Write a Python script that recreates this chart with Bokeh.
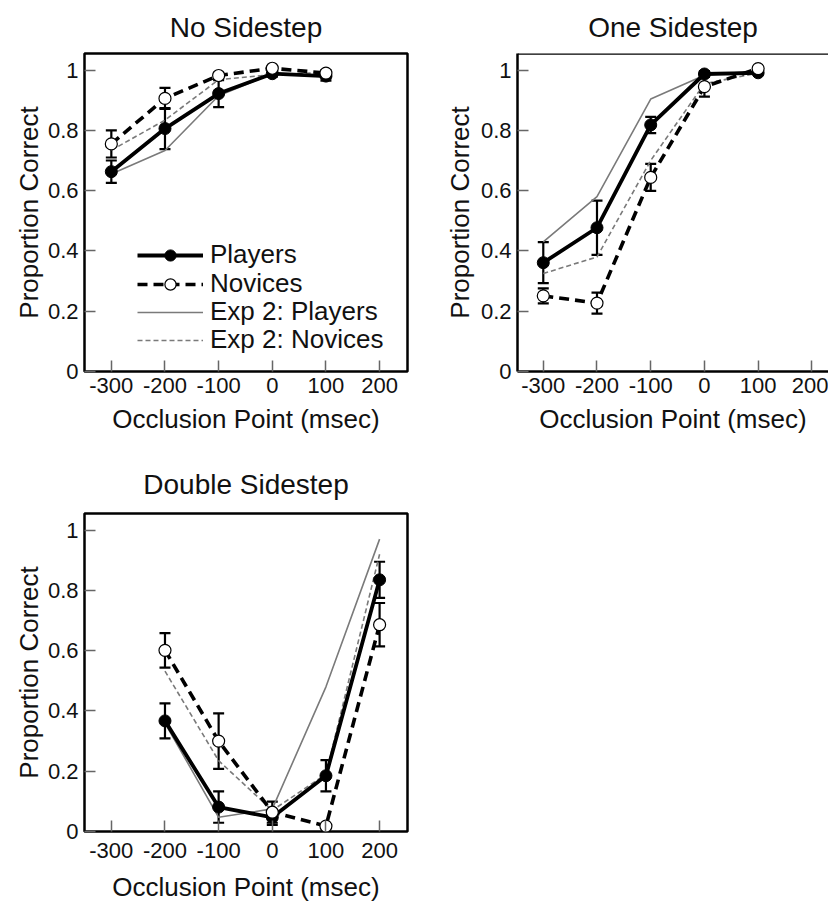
from bokeh.plotting import figure
from bokeh.layouts import column, row
from bokeh.models import (ColumnDataSource, Whisker, TeeHead, Legend, LegendItem,
                          Span, Range1d, FixedTicker, NumeralTickFormatter)
from bokeh.embed import file_html
from bokeh.resources import INLINE

# ---------------- data ----------------
x_early = [-300, -200, -100, 0, 100]
x_late = [-200, -100, 0, 100, 200]
x_ticks = [-300, -200, -100, 0, 100, 200]
y_ticks = [0, 0.2, 0.4, 0.6, 0.8, 1.0]
legend_labels = ["Players", "Novices", "Exp 2: Players", "Exp 2: Novices"]

# No Sidestep
ns_players = [0.663, 0.806, 0.922, 0.988, 0.980]
ns_players_se = [0.037, 0.068, 0.045, 0.010, 0.015]
ns_novices = [0.755, 0.906, 0.982, 1.006, 0.990]
ns_novices_se = [0.045, 0.035, 0.010, 0.005, 0.010]
ns_exp2_players = [0.655, 0.733, 0.915, 0.988, 0.978]
ns_exp2_novices = [0.734, 0.834, 0.968, 0.985, 0.992]

# One Sidestep
os_players = [0.361, 0.477, 0.818, 0.987, 0.991]
os_players_se = [0.068, 0.090, 0.027, 0.010, 0.005]
os_novices = [0.251, 0.227, 0.644, 0.945, 1.005]
os_novices_se = [0.025, 0.035, 0.045, 0.033, 0.005]
os_exp2_players = [0.430, 0.580, 0.904, 0.983, 0.998]
os_exp2_novices = [0.325, 0.380, 0.700, 0.955, 0.990]

# Double Sidestep
ds_players = [0.367, 0.081, 0.047, 0.185, 0.835]
ds_players_se = [0.058, 0.052, 0.025, 0.052, 0.060]
ds_novices = [0.601, 0.300, 0.064, 0.018, 0.686]
ds_novices_se = [0.057, 0.092, 0.035, 0.000, 0.072]
ds_exp2_players = [0.360, 0.047, 0.075, 0.480, 0.970]
ds_exp2_novices = [0.532, 0.235, 0.070, 0.190, 0.920]

FONT = "Liberation Sans"
GRAY = "#7a7a7a"
TXT = "#111111"
Y_END = 1.055


def make_panel(title, fw, fh, mbl, mbr, mbt, mbb, xr, outline=True,
               title_standoff=18, ylab_standoff=1, xtick_standoff=6, xlab_standoff=8):
    p = figure(frame_width=fw, frame_height=fh, x_range=Range1d(*xr), y_range=Range1d(0, Y_END),
               output_backend="svg", toolbar_location=None,
               min_border_left=mbl, min_border_right=mbr,
               min_border_top=mbt, min_border_bottom=mbb, title=title)
    p.title.text_font = FONT
    p.title.text_font_size = "28px"
    p.title.text_font_style = "normal"
    p.title.text_color = TXT
    p.title.align = "center"
    p.title.vertical_align = "top"
    p.title.standoff = title_standoff
    p.xgrid.visible = False
    p.ygrid.visible = False
    p.background_fill_color = "white"
    p.border_fill_color = "white"
    if outline:
        p.outline_line_color = "black"
        p.outline_line_width = 2.5
        p.outline_line_alpha = 1.0
    else:
        p.outline_line_color = None
        p.add_layout(Span(location=Y_END, dimension="width", line_color="black", line_width=2.5))
    p.xaxis.ticker = FixedTicker(ticks=x_ticks)
    p.yaxis.ticker = FixedTicker(ticks=y_ticks)
    p.xaxis.formatter = NumeralTickFormatter(format="0")
    p.yaxis.formatter = NumeralTickFormatter(format="0.[0]")
    for ax in (p.xaxis, p.yaxis):
        ax.axis_line_color = None if outline else "black"
        ax.axis_line_width = 2.5
        ax.major_tick_in = 11
        ax.major_tick_out = 0
        ax.minor_tick_line_color = None
        ax.major_tick_line_color = "#666666"
        ax.major_tick_line_width = 1.5
        ax.major_label_text_font = FONT
        ax.major_label_text_font_size = "22px"
        ax.major_label_text_color = TXT
        ax.axis_label_text_font = FONT
        ax.axis_label_text_font_size = "26px"
        ax.axis_label_text_font_style = "normal"
        ax.axis_label_text_color = TXT
    p.xaxis.major_label_standoff = xtick_standoff
    p.yaxis.major_label_standoff = 6
    p.xaxis.axis_label_standoff = xlab_standoff
    p.yaxis.axis_label_standoff = ylab_standoff
    p.xaxis.axis_label = "Occlusion Point (msec)"
    p.yaxis.axis_label = "Proportion Correct"
    return p


def draw(p, xs, players, players_se, novices, novices_se, e2p, e2n):
    r_e2p = p.line(xs, e2p, line_color=GRAY, line_width=1.6)
    r_e2n = p.line(xs, e2n, line_color=GRAY, line_width=1.6, line_dash="5 3")
    r_pl = p.line(xs, players, line_color="black", line_width=3.8)
    r_nl = p.line(xs, novices, line_color="black", line_width=3.6, line_dash="10 6")
    for vals, se in ((players, players_se), (novices, novices_se)):
        src = ColumnDataSource(dict(x=xs,
                                    lo=[v - s for v, s in zip(vals, se)],
                                    hi=[v + s for v, s in zip(vals, se)]))
        w = Whisker(source=src, base="x", lower="lo", upper="hi",
                    line_color="black", line_width=2.2,
                    upper_head=TeeHead(size=11, line_color="black", line_width=2.2),
                    lower_head=TeeHead(size=11, line_color="black", line_width=2.2))
        p.add_layout(w)
    r_pm = p.scatter(xs, players, size=12, marker="circle", fill_color="black",
                     line_color="black", line_width=1)
    r_nm = p.scatter(xs, novices, size=12, marker="circle", fill_color="white",
                     line_color="black", line_width=1.2)
    return r_pl, r_pm, r_nl, r_nm, r_e2p, r_e2n


# Panel 1: No Sidestep
p1 = make_panel("No Sidestep", 323, 318, 84, 13, 53, 84, (-350, 252))
rs = draw(p1, x_early, ns_players, ns_players_se, ns_novices, ns_novices_se,
          ns_exp2_players, ns_exp2_novices)
groups = [[rs[0], rs[1]], [rs[2], rs[3]], [rs[4]], [rs[5]]]
row_bottoms = [101, 72, 44, 16]
for lab, rend, yb in zip(legend_labels, groups, row_bottoms):
    lg = Legend(items=[LegendItem(label=lab, renderers=rend)], location=(53, yb))
    lg.glyph_width = 66
    lg.glyph_height = 28
    lg.label_height = 28
    lg.label_standoff = 7
    lg.padding = 0
    lg.margin = 0
    lg.spacing = 0
    lg.border_line_color = None
    lg.background_fill_alpha = 0
    lg.label_text_font = FONT
    lg.label_text_font_size = "26px"
    lg.label_text_color = TXT
    p1.add_layout(lg)

# Panel 2: One Sidestep (cut off at the right edge)
p2 = make_panel("One Sidestep", 311, 318, 97, 0, 53, 84, (-348, 231), outline=False,
                ylab_standoff=3)
draw(p2, x_early, os_players, os_players_se, os_novices, os_novices_se,
     os_exp2_players, os_exp2_novices)

# Panel 3: Double Sidestep
p3 = make_panel("Double Sidestep", 323, 318, 84, 13, 58, 70, (-350, 252),
                title_standoff=24, xtick_standoff=11, xlab_standoff=11)
draw(p3, x_late, ds_players, ds_players_se, ds_novices, ds_novices_se,
     ds_exp2_players, ds_exp2_novices)

layout = column(row(p1, p2), p3)
open("out.html", "w").write(file_html(layout, INLINE))
